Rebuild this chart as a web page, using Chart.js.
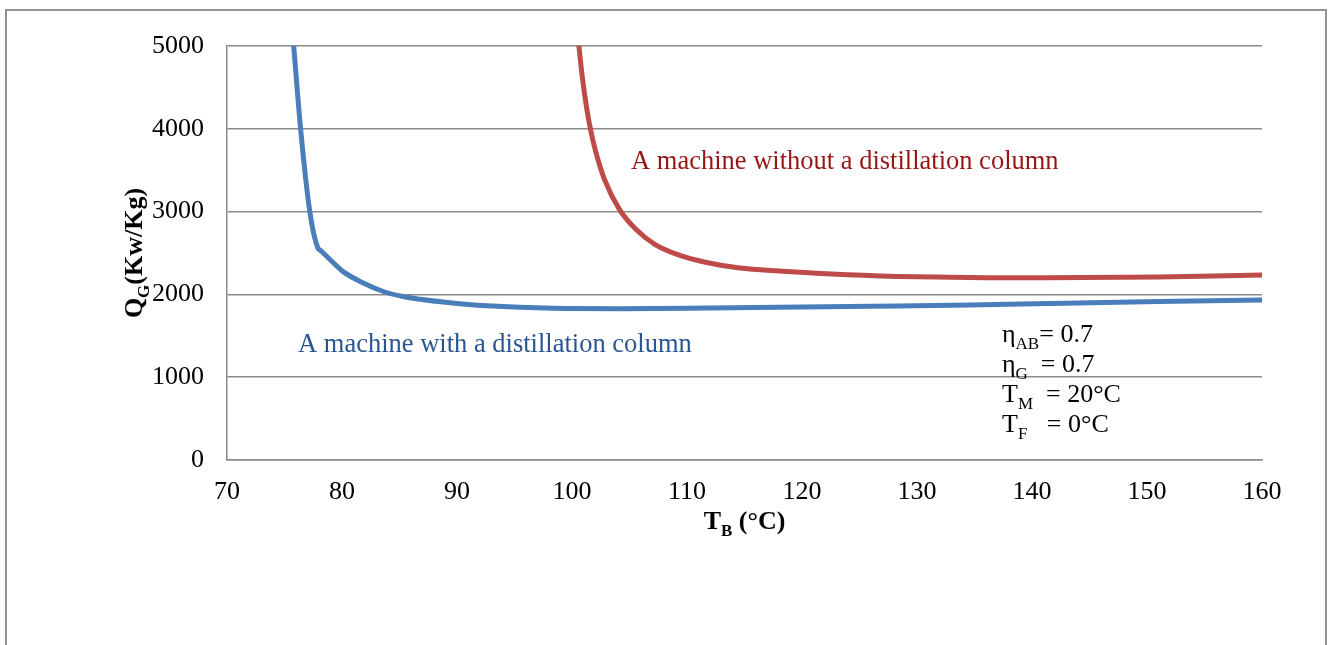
<!DOCTYPE html>
<html>
<head>
<meta charset="utf-8">
<script src="https://cdn.jsdelivr.net/npm/chart.js@4.4.0/dist/chart.umd.min.js"></script>
<style>
  html, body { margin: 0; padding: 0; background: #fff; overflow: hidden; }
  #frame { position: absolute; left: 5px; top: 9px; width: 1322px; height: 700px; border: 2px solid #939393; box-sizing: border-box; }
  #wrap { position: absolute; left: 0; top: 0; width: 1334px; height: 645px; }
</style>
</head>
<body>
<div id="frame"></div>
<div id="wrap"><canvas id="c" width="1334" height="645"></canvas></div>
<script>
// Generator heat demand Q_G versus boiler temperature T_B
const tWith = [75.8, 76.4, 77.2, 77.9, 78.1, 79.0, 80.1, 81.9, 83.6, 85.3, 86.8, 89.0, 92.6, 98.4, 104.2, 110, 118, 126, 134.6, 143, 151, 160];
const qWith = [5000, 4000, 3000, 2560, 2535, 2415, 2275, 2135, 2035, 1975, 1942, 1905, 1862, 1832, 1828, 1832, 1844, 1857, 1872, 1893, 1915, 1932];

const tWithout = [100.6, 100.9, 101.3, 101.6, 102.05, 102.85, 104.15, 105.6, 107.2, 109.2, 111.7, 114.6, 118, 124, 130, 136, 141, 151, 160];
const qWithout = [5000, 4620, 4230, 4000, 3730, 3380, 3020, 2780, 2605, 2480, 2385, 2318, 2282, 2237, 2212, 2202, 2201, 2211, 2234];

const xTicks = [70, 80, 90, 100, 110, 120, 130, 140, 150, 160];
const yTicks = [0, 1000, 2000, 3000, 4000, 5000];

const labelWith = 'A machine with a distillation column';
const labelWithout = 'A machine without a distillation column';

// parameter block: [main, subscript, rest]
const params = [
  ['η', 'AB', '= 0.7'],
  ['η', 'G', '  = 0.7'],
  ['T', 'M', '  = 20°C'],
  ['T', 'F', '   = 0°C']
];

const serif = '"Liberation Serif", "Times New Roman", serif';
const GRID = '#8a8a8a';
const FS = 26;

function toPoints(xs, ys) { return xs.map((x, i) => ({ x: x, y: ys[i] })); }

// draws "main" + subscript + rest, starting at x, baseline y
function drawSub(ctx, x, y, main, sub, rest, size, weight) {
  ctx.font = weight + ' ' + size + 'px ' + serif;
  ctx.fillText(main, x, y);
  x += ctx.measureText(main).width;
  ctx.font = weight + ' ' + Math.round(size * 0.66) + 'px ' + serif;
  ctx.fillText(sub, x, y + size * 0.25);
  x += ctx.measureText(sub).width;
  ctx.font = weight + ' ' + size + 'px ' + serif;
  ctx.fillText(rest, x, y);
  return x + ctx.measureText(rest).width;
}
function subWidth(ctx, main, sub, rest, size, weight) {
  ctx.font = weight + ' ' + size + 'px ' + serif;
  let w = ctx.measureText(main).width + ctx.measureText(rest).width;
  ctx.font = weight + ' ' + Math.round(size * 0.66) + 'px ' + serif;
  return w + ctx.measureText(sub).width;
}

const textPlugin = {
  id: 'chartText',
  afterDraw(chart) {
    const ctx = chart.ctx;
    const area = chart.chartArea;
    ctx.save();
    ctx.textBaseline = 'alphabetic';
    ctx.textAlign = 'left';

    // curve labels
    ctx.font = '26.5px ' + serif;
    ctx.fillStyle = '#961616';
    ctx.fillText(labelWithout, 631, 169);
    ctx.fillStyle = '#2a5592';
    ctx.fillText(labelWith, 298, 352);

    // parameters
    ctx.fillStyle = '#000';
    const bases = [342, 372, 402, 432];
    params.forEach((p, i) => drawSub(ctx, 1002, bases[i], p[0], p[1], p[2], FS, 'normal'));

    // x axis title
    const cx = (area.left + area.right) / 2;
    const w = subWidth(ctx, 'T', 'B', ' (°C)', FS, 'bold');
    drawSub(ctx, cx - w / 2, 529, 'T', 'B', ' (°C)', FS, 'bold');

    // y axis title (rotated)
    ctx.translate(142, (area.top + area.bottom) / 2);
    ctx.rotate(-Math.PI / 2);
    const wy = subWidth(ctx, 'Q', 'G', '(Kw/Kg)', FS, 'bold');
    drawSub(ctx, -wy / 2, 0, 'Q', 'G', '(Kw/Kg)', FS, 'bold');
    ctx.restore();
  }
};

new Chart(document.getElementById('c'), {
  type: 'line',
  data: {
    datasets: [
      {
        label: labelWith,
        data: toPoints(tWith, qWith),
        borderColor: '#4a7ebb',
        borderWidth: 5,
        pointRadius: 0,
        cubicInterpolationMode: 'monotone',
        borderCapStyle: 'round',
        borderJoinStyle: 'round'
      },
      {
        label: labelWithout,
        data: toPoints(tWithout, qWithout),
        borderColor: '#be4b48',
        borderWidth: 5,
        pointRadius: 0,
        cubicInterpolationMode: 'monotone',
        borderCapStyle: 'round',
        borderJoinStyle: 'round'
      }
    ]
  },
  options: {
    responsive: false,
    animation: false,
    layout: { padding: { left: 0, top: 46, right: 72, bottom: 0 } },
    plugins: { legend: { display: false }, tooltip: { enabled: false } },
    scales: {
      x: {
        type: 'linear',
        min: 70, max: 160,
        afterBuildTicks(scale) { scale.ticks = xTicks.map(v => ({ value: v })); },
        afterFit(scale) { scale.height = 645 - 460; },
        grid: { display: false, drawTicks: false },
        border: { display: true, color: GRID, width: 1.5 },
        ticks: { padding: 17, color: '#000', font: { family: serif, size: FS }, callback: v => String(v) }
      },
      y: {
        type: 'linear',
        min: 0, max: 5000,
        afterBuildTicks(scale) { scale.ticks = yTicks.map(v => ({ value: v })); },
        afterFit(scale) { scale.width = 227; },
        grid: { color: GRID, lineWidth: 1.5, drawTicks: false },
        border: { display: true, color: GRID, width: 1.5 },
        ticks: { padding: 23, color: '#000', font: { family: serif, size: FS }, callback: v => String(v) }
      }
    }
  },
  plugins: [textPlugin]
});
</script>
</body>
</html>
